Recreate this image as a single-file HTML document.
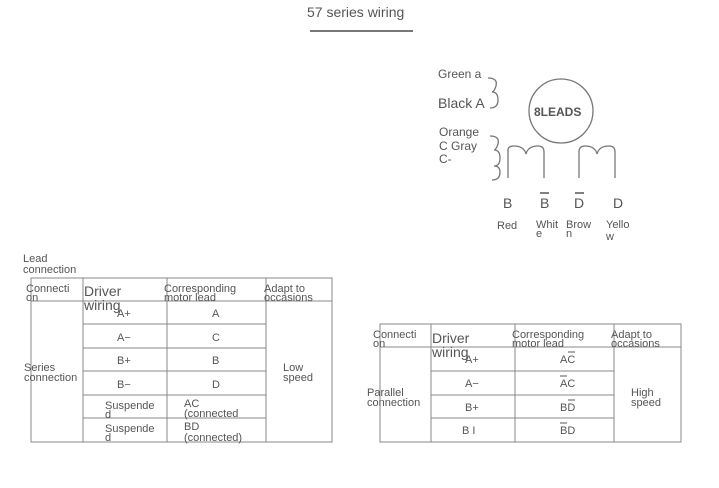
<!DOCTYPE html>
<html><head><style>
html,body{margin:0;padding:0;background:#fff;}
svg text{font-family:"Liberation Sans",sans-serif;fill:#555;}
</style></head><body>
<svg width="719" height="483" xmlns="http://www.w3.org/2000/svg">
<text x="307" y="17" font-size="14" fill="#555">57 series wiring</text>
<line x1="310" y1="31" x2="413" y2="31" stroke="#777" stroke-width="2"/>
<!-- motor -->
<circle cx="561" cy="111" r="32" fill="#fff" stroke="#777" stroke-width="1.3"/>
<text x="534" y="116" font-size="12" font-weight="bold" fill="#333">8LEADS</text>
<text x="438" y="78" font-size="12">Green a</text>
<text x="438" y="108" font-size="14">Black A</text>
<text x="439" y="136" font-size="12">Orange</text>
<text x="439" y="150" font-size="12">C Gray</text>
<text x="439" y="163" font-size="12">C-</text>
<path d="M488,78 q10,0 8,8 q-2,6 -4,6 q6,0 6,8 q0,8 -8,8" fill="none" stroke="#777" stroke-width="1.3"/>
<path d="M490,136 q10,0 8,8 q-2,6 -4,6 q6,0 6,8 q0,8 -6,8 q6,0 6,6 q0,8 -8,8" fill="none" stroke="#777" stroke-width="1.3"/>
<path d="M508,178 V150 q0,-4 6,-4 q10,0 12,8 q2,-8 12,-8 q6,0 6,6 V178" fill="none" stroke="#777" stroke-width="1.3"/>
<path d="M579,178 V152 q0,-6 6,-6 q10,0 12,8 q2,-8 12,-8 q6,0 6,6 V178" fill="none" stroke="#777" stroke-width="1.3"/>
<text x="503" y="208" font-size="14">B</text>
<text x="540" y="208" font-size="14">B</text><line x1="540" y1="193" x2="549" y2="193" stroke="#555" stroke-width="1.5"/>
<text x="574" y="208" font-size="14">D</text><line x1="575" y1="193" x2="584" y2="193" stroke="#555" stroke-width="1.5"/>
<text x="613" y="208" font-size="14">D</text>
<g font-size="11"><text x="497" y="229">Red</text>
<text x="536" y="228">Whit</text><text x="536" y="237">e</text>
<text x="566" y="228">Brow</text><text x="566" y="237">n</text>
<text x="606" y="228">Yello</text><text x="606" y="240">w</text></g>
<!-- table 1 -->
<text x="23" y="262" font-size="11">Lead</text><text x="23" y="273" font-size="11">connection</text>
<g fill="none" stroke="#888" stroke-width="1">
<rect x="31" y="278" width="301" height="164"/>
<line x1="31" y1="301" x2="332" y2="301"/>
<line x1="83" y1="278" x2="83" y2="442"/><line x1="167" y1="278" x2="167" y2="442"/><line x1="266" y1="278" x2="266" y2="442"/>
<line x1="83" y1="324" x2="266" y2="324"/><line x1="83" y1="348" x2="266" y2="348"/><line x1="83" y1="371" x2="266" y2="371"/><line x1="83" y1="395" x2="266" y2="395"/><line x1="83" y1="418" x2="266" y2="418"/>
</g>
<g font-size="11">
<text x="26" y="292">Connecti</text><text x="26" y="301">on</text>
<text x="84" y="296" font-size="14">Driver</text><text x="84" y="310" font-size="14">wiring</text>
<text x="164" y="292">Corresponding</text><text x="164" y="301">motor lead</text>
<text x="264" y="292">Adapt to</text><text x="264" y="301">occasions</text>
<text x="24" y="371">Series</text><text x="24" y="381">connection</text>
<text x="283" y="371">Low</text><text x="283" y="381">speed</text>
<text x="117" y="317">A+</text><text x="212" y="317">A</text>
<text x="117" y="341">A−</text><text x="212" y="341">C</text>
<text x="117" y="364">B+</text><text x="212" y="364">B</text>
<text x="117" y="388">B−</text><text x="212" y="388">D</text>
<text x="105" y="409">Suspende</text><text x="105" y="418">d</text>
<text x="184" y="407">AC</text><text x="184" y="417">(connected</text>
<text x="105" y="432">Suspende</text><text x="105" y="441">d</text>
<text x="184" y="430">BD</text><text x="184" y="441">(connected)</text>
</g>
<!-- table 2 -->
<g fill="none" stroke="#888" stroke-width="1">
<rect x="380" y="324" width="301" height="118"/>
<line x1="380" y1="347" x2="681" y2="347"/>
<line x1="431" y1="324" x2="431" y2="442"/><line x1="515" y1="324" x2="515" y2="442"/><line x1="614" y1="324" x2="614" y2="442"/>
<line x1="431" y1="371" x2="614" y2="371"/><line x1="431" y1="395" x2="614" y2="395"/><line x1="431" y1="418" x2="614" y2="418"/>
</g>
<g font-size="11">
<text x="373" y="338">Connecti</text><text x="373" y="347">on</text>
<text x="432" y="343" font-size="14">Driver</text><text x="432" y="357" font-size="14">wiring</text>
<text x="512" y="338">Corresponding</text><text x="512" y="347">motor lead</text>
<text x="611" y="338">Adapt to</text><text x="611" y="347">occasions</text>
<text x="367" y="396">Parallel</text><text x="367" y="406">connection</text>
<text x="631" y="396">High</text><text x="631" y="406">speed</text>
<text x="465" y="363">A+</text><text x="560" y="363">AC</text><line x1="568" y1="352" x2="575" y2="352" stroke="#555"/>
<text x="465" y="387">A−</text><text x="560" y="387">AC</text><line x1="560" y1="376" x2="567" y2="376" stroke="#555"/>
<text x="465" y="411">B+</text><text x="560" y="411">BD</text><line x1="568" y1="400" x2="575" y2="400" stroke="#555"/>
<text x="462" y="434">B I</text><text x="560" y="434">BD</text><line x1="560" y1="423" x2="567" y2="423" stroke="#555"/>
</g>
</svg>
</body></html>
